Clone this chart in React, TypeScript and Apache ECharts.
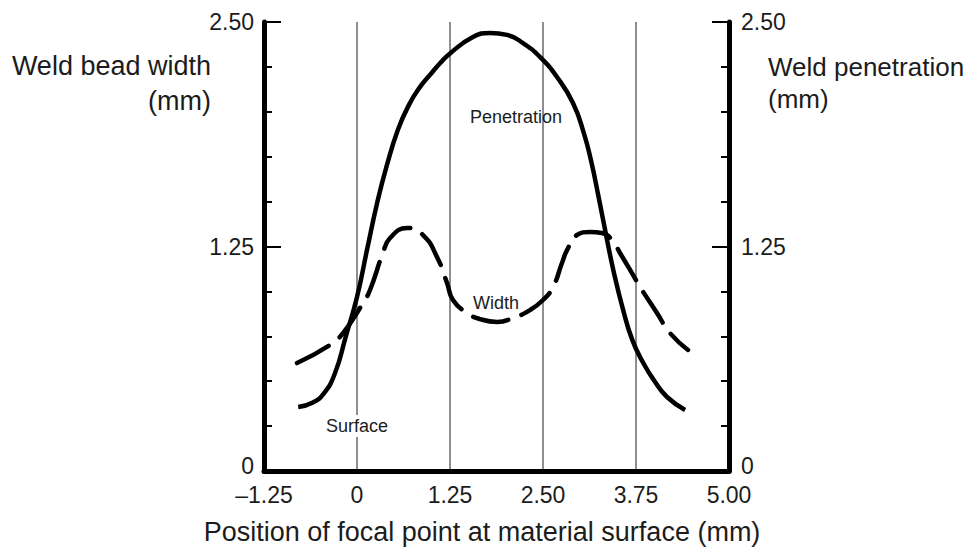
import React, { useEffect, useRef } from "react";
import * as echarts from "echarts";

// ---- Data ----
const xTickValues = [-1.25, 0, 1.25, 2.5, 3.75, 5.0];
const xTickLabels = ["\u20131.25", "0", "1.25", "2.50", "3.75", "5.00"];
const yLabelValues = [0, 1.25, 2.5];
const yLabelTexts = ["0", "1.25", "2.50"];

const penetrationX = [
  -0.79, -0.6, -0.45, -0.3, -0.15, 0, 0.134, 0.269, 0.4, 0.55, 0.7, 0.85, 1.0, 1.116, 1.25, 1.559,
  1.788, 2.016, 2.231, 2.46, 2.688, 2.903, 3.05, 3.15, 3.25, 3.35, 3.45, 3.575, 3.7, 3.85, 4.0, 4.167,
  4.41,
];
const penetrationY = [
  0.356, 0.38, 0.43, 0.54, 0.75, 0.969, 1.23, 1.49, 1.7, 1.9, 2.04, 2.14, 2.215, 2.27, 2.325, 2.416,
  2.439, 2.428, 2.383, 2.305, 2.194, 2.049, 1.88, 1.72, 1.52, 1.31, 1.11, 0.9, 0.73, 0.6, 0.5, 0.412,
  0.34,
];

const widthX = [
  -0.806, -0.363, -0.188, 0.081, 0.175, 0.349, 0.444, 0.672, 0.887, 1.075, 1.21, 1.29, 1.478, 1.653,
  1.882, 2.097, 2.325, 2.5, 2.634, 2.755, 2.823, 2.957, 3.132, 3.293, 3.427, 3.535, 3.696, 3.804,
  4.032, 4.207, 4.449,
];
const widthY = [
  0.601, 0.702, 0.768, 0.935, 1.008, 1.214, 1.297, 1.353, 1.314, 1.192, 1.047, 0.952, 0.88, 0.846,
  0.83, 0.852, 0.896, 0.952, 1.024, 1.158, 1.23, 1.314, 1.331, 1.325, 1.286, 1.214, 1.102, 1.025,
  0.88, 0.768, 0.674,
];

const FONT = "'Liberation Sans', Arial, Helvetica, sans-serif";
const TEXT_COLOR = "#1c1c1c";

function xLabel(v: number): string {
  const i = xTickValues.findIndex((t) => Math.abs(t - v) < 1e-6);
  return i >= 0 ? xTickLabels[i] : "";
}
function yLabel(v: number): string {
  const i = yLabelValues.findIndex((t) => Math.abs(t - v) < 1e-6);
  if (i < 0) return "";
  // the bottom label sits a little above the x axis labels
  return i === 0 ? `{low|${yLabelTexts[i]}}` : yLabelTexts[i];
}

export default function App() {
  const ref = useRef<HTMLDivElement>(null);

  useEffect(() => {
    if (!ref.current) return;
    const chart = echarts.init(ref.current, undefined, { renderer: "svg" });

    const mainY = (position: "left" | "right") => ({
      type: "value",
      position,
      min: 0,
      max: 2.5,
      interval: 0.25,
      axisLine: { show: true, onZero: false, lineStyle: { color: "#000", width: 5 } },
      axisTick: { show: true, inside: true, length: 8, lineStyle: { color: "#000", width: 2 } },
      axisLabel: {
        show: true,
        formatter: yLabel,
        fontSize: 23,
        fontFamily: FONT,
        color: TEXT_COLOR,
        margin: position === "left" ? 10 : 12,
        rich: {
          low: {
            fontSize: 23,
            fontFamily: FONT,
            color: TEXT_COLOR,
            padding: [0, 0, 10, 0],
          },
        },
      },
      splitLine: { show: false },
    });
    const majorTickY = (position: "left" | "right") => ({
      type: "value",
      position,
      min: 0,
      max: 2.5,
      interval: 1.25,
      axisLine: { show: false, onZero: false },
      axisTick: { show: true, inside: true, length: 17, lineStyle: { color: "#000", width: 2 } },
      axisLabel: { show: false },
      splitLine: { show: false },
    });

    chart.setOption({
      animation: false,
      backgroundColor: "#ffffff",
      grid: { left: 264, right: 238, top: 22, bottom: 76, containLabel: false },
      xAxis: {
        type: "value",
        min: -1.25,
        max: 5,
        interval: 1.25,
        axisLine: { show: true, onZero: false, lineStyle: { color: "#000", width: 5 } },
        axisTick: { show: false },
        axisLabel: {
          formatter: xLabel,
          fontSize: 23,
          fontFamily: FONT,
          color: TEXT_COLOR,
          margin: 12,
        },
        splitLine: { show: true, lineStyle: { color: "#8f8f8f", width: 2 } },
      },
      yAxis: [mainY("left"), mainY("right"), majorTickY("left"), majorTickY("right")],
      series: [
        {
          name: "Width",
          type: "line",
          xAxisIndex: 0,
          yAxisIndex: 0,
          smooth: 0.5,
          symbol: "none",
          data: widthX.map((x, i) => [x, widthY[i]]),
          lineStyle: { color: "#000", width: 4.5, type: [36, 14], cap: "round" },
          z: 3,
        },
        {
          name: "Penetration",
          type: "line",
          xAxisIndex: 0,
          yAxisIndex: 1,
          smooth: 0.5,
          symbol: "none",
          data: penetrationX.map((x, i) => [x, penetrationY[i]]),
          lineStyle: { color: "#000", width: 4.5, type: "solid" },
          z: 3,
        },
      ],
      graphic: [
        {
          type: "text",
          x: 211,
          y: 48,
          style: {
            text: "Weld bead width\n(mm)",
            fontSize: 27,
            fontFamily: FONT,
            fill: TEXT_COLOR,
            align: "right",
            verticalAlign: "top",
            lineHeight: 35,
          },
        },
        {
          type: "text",
          x: 768,
          y: 51,
          style: {
            text: "Weld penetration\n(mm)",
            fontSize: 26,
            fontFamily: FONT,
            fill: TEXT_COLOR,
            align: "left",
            verticalAlign: "top",
            lineHeight: 32,
          },
        },
        {
          type: "text",
          x: 482,
          y: 532,
          style: {
            text: "Position of focal point at material surface (mm)",
            fontSize: 27,
            fontFamily: FONT,
            fill: TEXT_COLOR,
            align: "center",
            verticalAlign: "middle",
          },
        },
        {
          type: "text",
          x: 516,
          y: 117,
          z: 10,
          style: {
            text: "Penetration",
            fontSize: 18,
            fontFamily: FONT,
            fill: TEXT_COLOR,
            align: "center",
            verticalAlign: "middle",
          },
        },
        {
          type: "text",
          x: 496,
          y: 303,
          z: 10,
          style: {
            text: "Width",
            fontSize: 18,
            fontFamily: FONT,
            fill: TEXT_COLOR,
            align: "center",
            verticalAlign: "middle",
          },
        },
        {
          type: "text",
          x: 357,
          y: 426,
          z: 10,
          style: {
            text: "Surface",
            fontSize: 18,
            fontFamily: FONT,
            fill: TEXT_COLOR,
            align: "center",
            verticalAlign: "middle",
            backgroundColor: "#ffffff",
            padding: [2, 2],
          },
        },
      ],
    });

    return () => chart.dispose();
  }, []);

  return (
    <div
      ref={ref}
      style={{ position: "absolute", left: 0, top: 0, width: 967, height: 547, background: "#fff" }}
    />
  );
}
